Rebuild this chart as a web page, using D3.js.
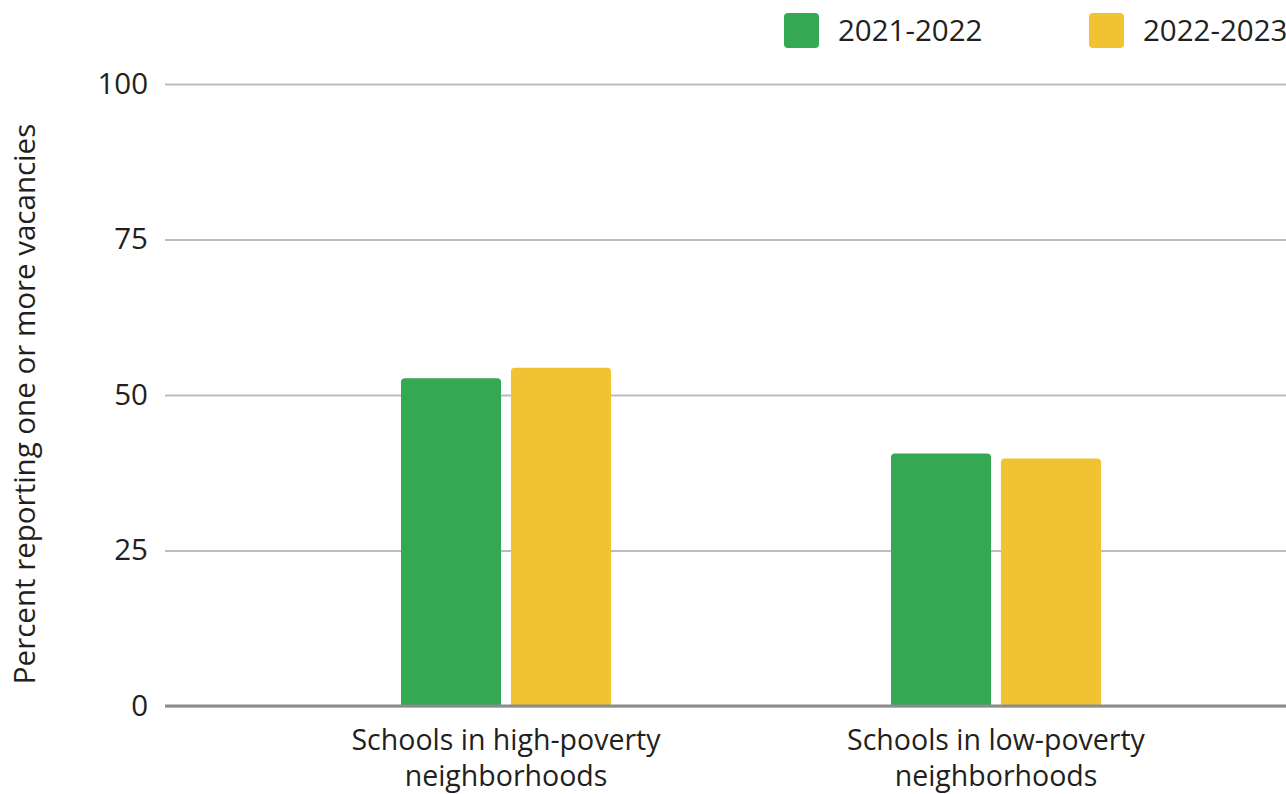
<!DOCTYPE html>
<html><head><meta charset="utf-8">
<script src="https://cdn.jsdelivr.net/npm/d3@7"></script>
<style>body{margin:0;background:#fff}svg{display:block}text{font-family:"Open Sans",sans-serif;fill:#231f20}</style>
</head><body><svg id="c" width="1286" height="794"></svg>
<script>
const categories = [["Schools in high-poverty","neighborhoods"],["Schools in low-poverty","neighborhoods"]];
const seriesNames = ["2021-2022","2022-2023"];
const values2021 = [52.7, 40.6];
const values2022 = [54.4, 39.8];
const yTicks = [0,25,50,75,100];
const colors = ["#34a853","#f1c232"];

const svg = d3.select("#c");
const y = d3.scaleLinear().domain([0,100]).range([706,84]);
const catKeys = categories.map(c=>c.join(" "));
const x0 = d3.scaleBand().domain(catKeys).range([261,1241]);
const x1 = d3.scaleBand().domain(seriesNames).range([140,350]).paddingInner(0.09);
const color = d3.scaleOrdinal().domain(seriesNames).range(colors);
const FS = 29.5;
const XFS = 28.5;

// gridlines
const yAxis = d3.axisLeft(y).tickValues(yTicks).tickSize(-1121).tickPadding(17);
const gy = svg.append("g").attr("transform","translate(165,0)").call(yAxis);
gy.select(".domain").remove();
gy.selectAll(".tick line").attr("stroke","#bdbdbd").attr("stroke-width",2);
gy.selectAll(".tick text").style("font-size",FS+"px").attr("fill","#231f20").style("font-family","'Open Sans',sans-serif");

// bars
const data = catKeys.map((k,i)=>({k, vals:[values2021[i], values2022[i]]}));
const r = 4;
function topRounded(x,yv,w,h){
  return `M${x},${yv+h}V${yv+r}Q${x},${yv} ${x+r},${yv}H${x+w-r}Q${x+w},${yv} ${x+w},${yv+r}V${yv+h}Z`;
}
const g = svg.append("g");
data.forEach(d=>{
  seriesNames.forEach((s,j)=>{
    const bx = x0(d.k)+x1(s), by = y(d.vals[j]), bw = x1.bandwidth(), bh = y(0)-y(d.vals[j]);
    g.append("path").attr("d",topRounded(bx,by,bw,bh)).attr("fill",color(s));
  });
});

// zero baseline
svg.append("line").attr("x1",165).attr("x2",1286).attr("y1",y(0)).attr("y2",y(0)).attr("stroke","#8c8c8c").attr("stroke-width",3);

// x labels
categories.forEach((c,i)=>{
  const cx = x0(catKeys[i]) + x0.bandwidth()/2;
  svg.append("text").attr("text-anchor","middle").style("font-size",XFS+"px").attr("x",cx).attr("y",750).text(c[0]);
  svg.append("text").attr("text-anchor","middle").style("font-size",XFS+"px").attr("x",cx).attr("y",786).text(c[1]);
});

// y label
svg.append("text").attr("transform","translate(35,404) rotate(-90)").attr("text-anchor","middle").style("font-size",FS+"px").text("Percent reporting one or more vacancies");

// legend
const legX = [784,1089];
seriesNames.forEach((s,i)=>{
  svg.append("rect").attr("x",legX[i]).attr("y",13).attr("width",35).attr("height",35).attr("rx",4).attr("fill",color(s));
  svg.append("text").attr("x",legX[i]+54).attr("y",41).style("font-size",FS+"px").text(s);
});
</script></body></html>
